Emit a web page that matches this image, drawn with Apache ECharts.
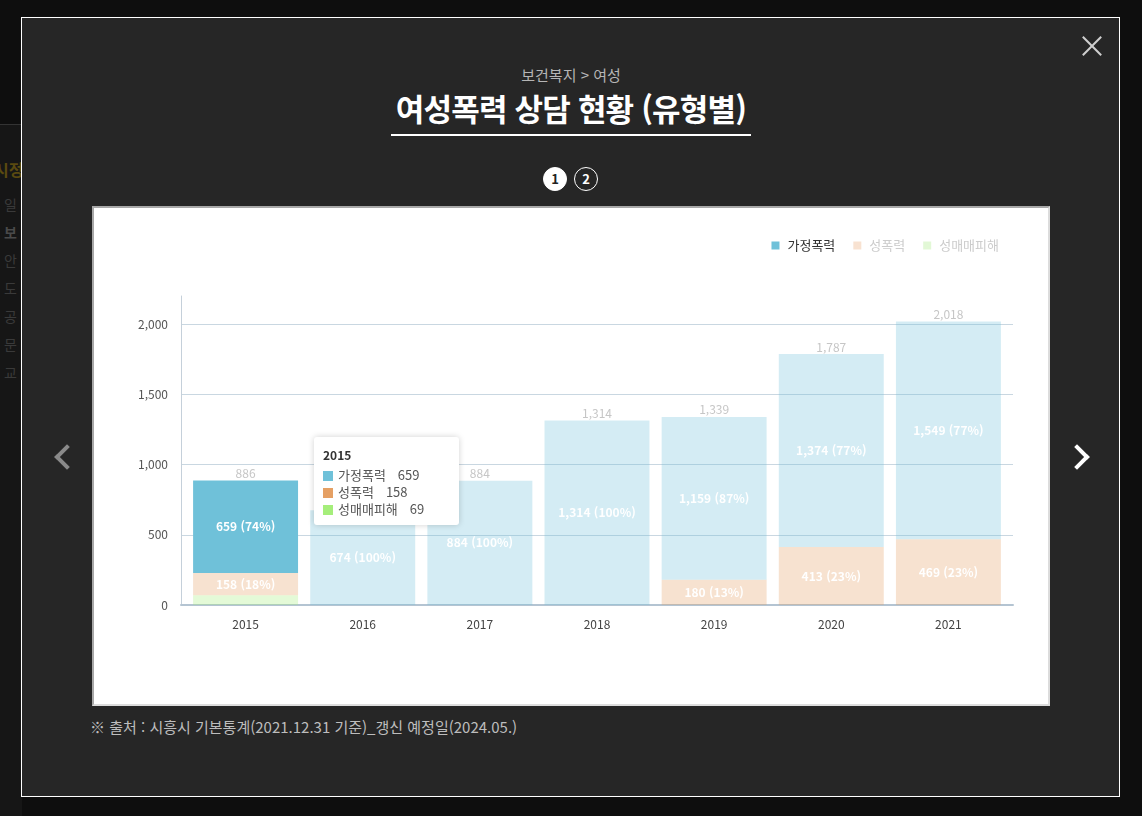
<!DOCTYPE html>
<html lang="ko">
<head>
<meta charset="utf-8">
<title>여성폭력 상담 현황 (유형별)</title>
<script src="https://cdn.jsdelivr.net/npm/echarts@6/dist/echarts.min.js"></script>
<style>
  html, body { margin:0; padding:0; }
  body { width:1142px; height:816px; background:#0e0e0e; position:relative; overflow:hidden;
         font-family:"Noto Sans CJK KR","Noto Sans",sans-serif; }
  .bgside { position:absolute; left:0; top:125px; width:22px; height:691px; background:#161616; }
  .bgline { position:absolute; left:0; top:124px; width:22px; height:2px; background:#333; }
  .bgtxt { position:absolute; left:4px; color:#3a3a3a; font-size:14px; line-height:14px; }
  .modal { position:absolute; left:21px; top:17px; width:1097px; height:778px; background:#262626; border:1px solid #ffffff; }
  .sub { position:absolute; left:0; width:1142px; top:64px; text-align:center; color:#b5b5b5; font-size:15px; line-height:22px; letter-spacing:0; }
  .ttl { position:absolute; left:0; width:1142px; top:85px; text-align:center; color:#fff; font-size:31px; font-weight:700; line-height:46px; letter-spacing:-0.8px; }
  .uline { position:absolute; left:391px; top:134px; width:360px; height:2px; background:#fff; }
  .pg { position:absolute; top:167px; width:24px; height:24px; border-radius:50%; box-sizing:border-box; text-align:center; font-size:13px; font-weight:700; line-height:22px; }
  .pg1 { left:543px; background:#fff; color:#222; border:1px solid #fff; }
  .pg2 { left:574px; color:#fff; border:1.5px solid #fff; }
  .close { position:absolute; left:1081px; top:35px; width:22px; height:22px; }
  .close:before, .close:after { content:""; position:absolute; left:-2px; top:10px; width:26px; height:2px; background:#cfcfcf; }
  .close:before { transform:rotate(45deg); } .close:after { transform:rotate(-45deg); }
  .arr { position:absolute; width:14px; height:14px; border-left:4px solid; border-bottom:4px solid; }
  .arrL { left:58px; top:448px; border-color:#8a8a8a; transform:rotate(45deg); }
  .arrR { left:1068px; top:448px; border-color:#fff; transform:rotate(-135deg); }
  .box { position:absolute; left:92px; top:206px; width:954px; height:496px; background:#fff;
         border-top:2px solid #a8a8a8; border-left:2px solid #a8a8a8; border-right:2px solid #dcdcdc; border-bottom:2px solid #dcdcdc; }
  #chart { position:absolute; left:94px; top:208px; width:954px; height:496px; }
  .note { position:absolute; left:90px; top:716px; color:#bdbdbd; font-size:15px; line-height:22px; letter-spacing:0; }
</style>
</head>
<body>
<div class="bgline"></div>
<div class="bgside"></div>
<div class="bgtxt" style="top:162px;left:-6px;color:#5a4a10;font-weight:700;font-size:16px;">시정</div>
<div class="bgtxt" style="top:197px;">일</div>
<div class="bgtxt" style="top:225px;font-weight:700;color:#4a4a4a;">보</div>
<div class="bgtxt" style="top:253px;">안</div>
<div class="bgtxt" style="top:281px;">도</div>
<div class="bgtxt" style="top:309px;">공</div>
<div class="bgtxt" style="top:337px;">문</div>
<div class="bgtxt" style="top:365px;">교</div>
<div class="modal"></div>
<div class="sub">보건복지 &gt; 여성</div>
<div class="ttl">여성폭력 상담 현황 (유형별)</div>
<div class="uline"></div>
<div class="pg pg1">1</div>
<div class="pg pg2">2</div>
<div class="close"></div>
<div class="arr arrL"></div>
<div class="arr arrR"></div>
<div class="box"></div>
<div id="chart"></div>
<div class="note">※ 출처 : 시흥시 기본통계(2021.12.31 기준)_갱신 예정일(2024.05.)</div>
<script>
// ---- data ----
const categories = ['2015', '2016', '2017', '2018', '2019', '2020', '2021'];
const seriesNames = ['가정폭력', '성폭력', '성매매피해'];
const domesticViolence = [659, 674, 884, 1314, 1159, 1374, 1549];
const sexualViolence = [158, 0, 0, 0, 180, 413, 469];
const sexTrafficking = [69, 0, 0, 0, 0, 0, 0];
const seriesColors = ['#6fc1d9', '#e5a064', '#a5ee7b'];
const fadedColors = ['rgba(111,193,217,0.3)', 'rgba(229,160,100,0.3)', 'rgba(165,238,123,0.3)'];
const legendFaded = ['#6fc1d9', '#f8e2d1', '#e2f8d6'];
const yAxisMax = 2200;
const yAxisInterval = 500;

// ---- derived ----
const seriesValues = [domesticViolence, sexualViolence, sexTrafficking];
const totals = categories.map((c, i) => seriesValues.reduce((s, arr) => s + arr[i], 0));
const fmt = v => String(v).replace(/\B(?=(\d{3})+(?!\d))/g, ',');
const hoverSeries = 0, hoverIndex = 0;

const chart = echarts.init(document.getElementById('chart'));

// stack bottom -> top : 성매매피해, 성폭력, 가정폭력
const stackOrder = [2, 1, 0];
const barSeries = stackOrder.map(si => ({
  name: seriesNames[si],
  type: 'bar',
  stack: 'total',
  xAxisIndex: 1,
  yAxisIndex: 1,
  barCategoryGap: '10.4%',
  itemStyle: { color: seriesColors[si] },
  data: seriesValues[si].map((v, i) => ({
    value: v,
    itemStyle: { color: (si === hoverSeries && i === hoverIndex) ? seriesColors[si] : fadedColors[si] }
  })),
  label: {
    show: true,
    position: 'inside',
    color: '#fff',
    fontSize: 12,
    fontWeight: 'bold',
    formatter: p => p.value >= 100 ? fmt(p.value) + ' (' + Math.round(p.value / totals[p.dataIndex] * 100) + '%)' : ''
  }
}));

const totalSeries = {
  name: '합계',
  type: 'bar',
  stack: 'total',
  xAxisIndex: 1,
  yAxisIndex: 1,
  silent: true,
  tooltip: { show: false },
  itemStyle: { color: 'rgba(0,0,0,0)' },
  data: categories.map(() => 0),
  label: {
    show: true,
    position: 'top',
    distance: 1,
    color: '#c6c6c6',
    fontSize: 12,
    formatter: p => fmt(totals[p.dataIndex])
  }
};

chart.setOption({
  animation: false,
  textStyle: { fontFamily: '"Noto Sans CJK KR", "Noto Sans", sans-serif' },
  grid: [
    { left: 87, right: 35, top: 88, bottom: 99, containLabel: false },
    { left: 93, right: 41, top: 88, bottom: 99, containLabel: false }
  ],
  legend: {
    right: 44,
    top: 26,
    icon: 'rect',
    itemWidth: 8,
    itemHeight: 8,
    itemGap: 18,
    textStyle: { fontSize: 13, padding: [0, 0, 0, 3] },
    data: seriesNames.map((n, si) => ({
      name: n,
      itemStyle: { color: legendFaded[si] },
      textStyle: { color: si === hoverSeries ? '#333' : '#cccccc' }
    }))
  },
  tooltip: {
    trigger: 'item',
    triggerOn: 'none',
    alwaysShowContent: true,
    position: [220, 229],
    backgroundColor: '#fff',
    borderWidth: 0,
    padding: [8, 10, 8, 9],
    extraCssText: 'box-shadow:0 0 6px rgba(0,0,0,0.18);border-radius:3px;',
    formatter: p => {
      const i = p.dataIndex;
      let h = '<div style="width:126px;font-size:12px;font-weight:bold;color:#333;line-height:20px;margin-bottom:1px;">' + categories[i] + '</div>';
      seriesNames.forEach((n, si) => {
        h += '<div style="font-size:13px;color:#555;line-height:17px;">' +
          '<span style="display:inline-block;width:10px;height:10px;background:' + seriesColors[si] + ';margin-right:5px;vertical-align:-1px;"></span>' +
          n + '<span style="margin-left:12px;">' + fmt(seriesValues[si][i]) + '</span></div>';
      });
      return h;
    }
  },
  xAxis: [
    {
      gridIndex: 0,
      type: 'category',
      data: categories,
      axisLine: { lineStyle: { color: '#b4c4d2', width: 2 } },
      axisTick: { show: false },
      axisLabel: { show: false },
      splitLine: { show: false }
    },
    {
      gridIndex: 1,
      type: 'category',
      data: categories,
      axisLine: { show: false },
      axisTick: { show: false },
      axisLabel: { color: '#444', fontSize: 12, margin: 13 }
    }
  ],
  yAxis: [
    {
      gridIndex: 0,
      type: 'value',
      min: 0,
      max: yAxisMax,
      interval: yAxisInterval,
      axisLine: { show: true, lineStyle: { color: '#c5d0da', width: 1 } },
      axisTick: { show: false },
      axisLabel: { color: '#555', fontSize: 12, margin: 13, showMaxLabel: false, formatter: v => fmt(v) },
      splitLine: { show: true, showMinLine: false, showMaxLine: false, lineStyle: { color: '#c9d7e1', width: 1 } }
    },
    {
      gridIndex: 1,
      type: 'value',
      min: 0,
      max: yAxisMax,
      interval: yAxisInterval,
      show: false
    }
  ],
  series: [...barSeries, totalSeries]
});

chart.dispatchAction({ type: 'showTip', seriesIndex: stackOrder.indexOf(hoverSeries), dataIndex: hoverIndex });
</script>
</body>
</html>
